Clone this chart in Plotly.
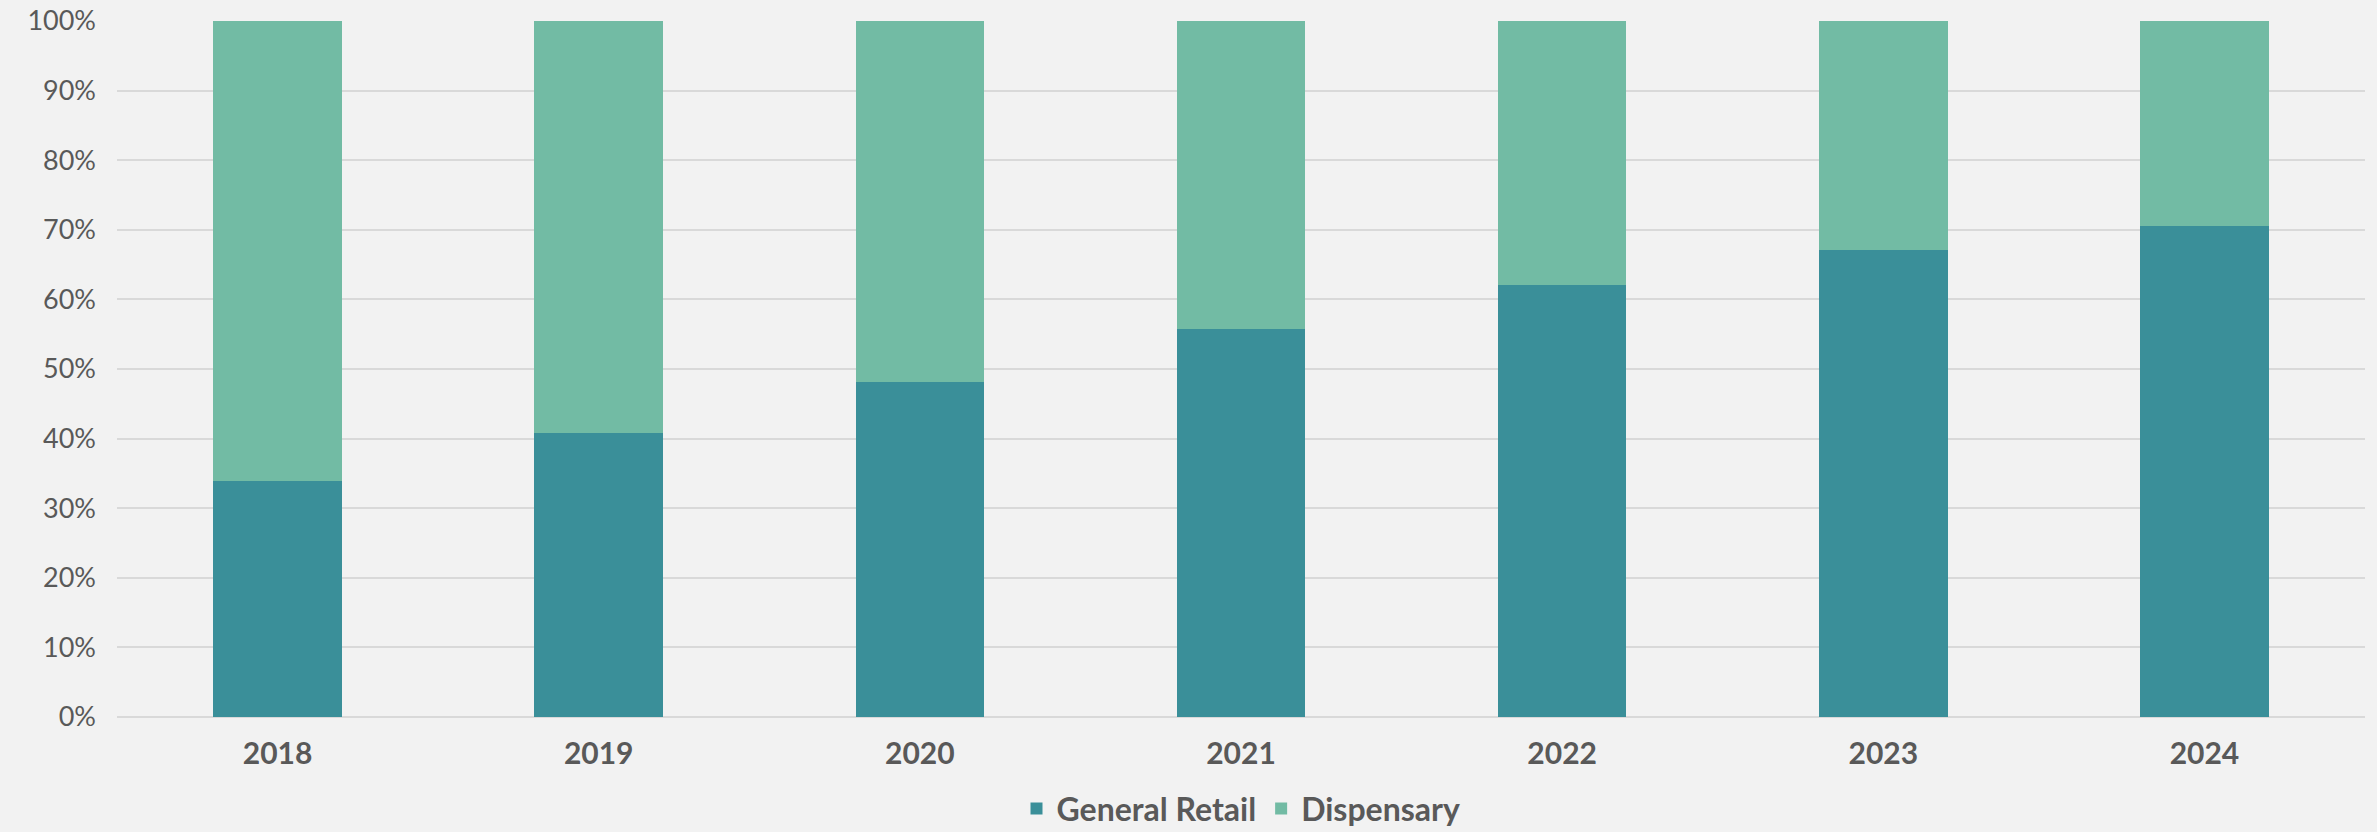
import plotly.graph_objects as go

years = ["2018", "2019", "2020", "2021", "2022", "2023", "2024"]
general_retail = [33.9, 40.8, 48.2, 55.7, 62.1, 67.1, 70.6]
dispensary = [round(100 - v, 1) for v in general_retail]

fig = go.Figure()
fig.add_trace(go.Bar(
    x=years, y=general_retail, name="General Retail",
    marker=dict(color="#3A8F99", line=dict(width=0)),
))
fig.add_trace(go.Bar(
    x=years, y=dispensary, name="Dispensary",
    marker=dict(color="#72BBA4", line=dict(width=0)),
))

fig.update_layout(
    barmode="stack",
    bargap=0.6,
    width=2377, height=832,
    margin=dict(l=117, r=12, t=21, b=115, autoexpand=False),
    paper_bgcolor="#F2F2F2",
    plot_bgcolor="#F2F2F2",
    font=dict(family="Lato, Open Sans, sans-serif", color="#595959", size=28),
    showlegend=True,
    legend=dict(
        orientation="h", x=0.5, xanchor="center",
        yref="container", y=0.028, yanchor="middle",
        font=dict(size=32, color="#595959", family="Lato, sans-serif", weight="bold"),
        itemwidth=30, traceorder="normal", bgcolor="rgba(0,0,0,0)",
    ),
    xaxis=dict(
        showgrid=False, showline=False, ticks="",
        tickfont=dict(size=30, color="#595959", weight="bold"),
        ticklabelstandoff=16, automargin=False,
    ),
    yaxis=dict(
        range=[0, 100], dtick=10, ticksuffix="%",
        showgrid=True, gridcolor="#D9D9D9", gridwidth=2,
        zeroline=True, zerolinecolor="#D9D9D9", zerolinewidth=2,
        showline=False, ticks="", ticklabelstandoff=20, automargin=False,
        tickfont=dict(size=27, color="#595959"),
    ),
)

fig.write_html(
    "out.html",
    config={"displayModeBar": False},
    post_script="document.body.style.margin='0';document.body.style.padding='0';"
                "document.body.style.background='#F2F2F2';document.body.style.overflow='hidden';",
)
